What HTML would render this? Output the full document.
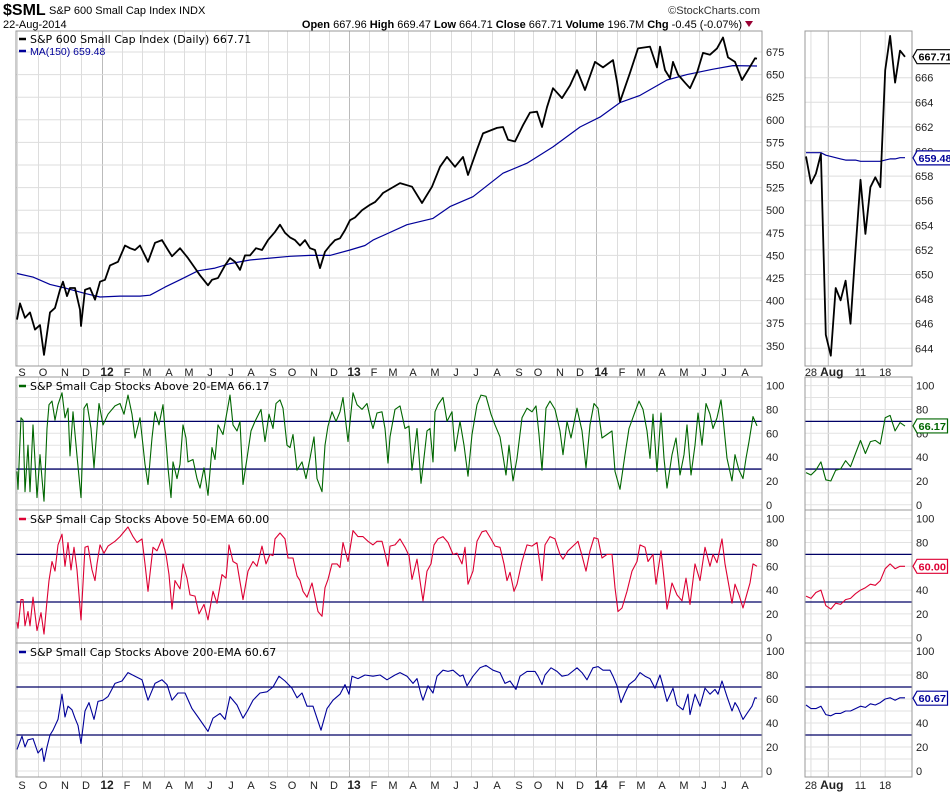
<!DOCTYPE html>
<html><head><meta charset="utf-8">
<style>
html,body{margin:0;padding:0;background:#fff;}
svg{display:block;font-family:"Liberation Sans",sans-serif;}
</style></head>
<body>
<svg id="chart" width="950" height="795" viewBox="0 0 950 795" xmlns="http://www.w3.org/2000/svg">
  <text x="3" y="15" font-size="16" font-weight="bold">$SML</text>
  <text x="49" y="14" font-size="11">S&amp;P 600 Small Cap Index INDX</text>
  <text x="3" y="28" font-size="11">22-Aug-2014</text>
  <text x="760" y="14" font-size="11" fill="#333" text-anchor="end">©StockCharts.com</text>
  <text x="742" y="28" font-size="11" text-anchor="end"><tspan font-weight="bold">Open</tspan> 667.96 <tspan font-weight="bold">High</tspan> 669.47 <tspan font-weight="bold">Low</tspan> 664.71 <tspan font-weight="bold">Close</tspan> 667.71 <tspan font-weight="bold">Volume</tspan> 196.7M <tspan font-weight="bold">Chg</tspan> -0.45 (-0.07%)</text>
  <polygon points="745,21 753,21 749,27" fill="#990033"/>
  <g id="layer"></g>
</svg>
<script>
// ---------- DATA (trading-day index from 22-Aug-2011, value) ----------
const priceDays = [0,3,8,13,18,23,27,33,38,43,46,50,53,58,63,64,68,73,78,83,88,93,101,108,113,118,123,131,138,145,151,155,163,171,178,183,191,195,201,208,213,218,223,228,233,239,245,251,258,263,268,273,278,283,288,293,298,303,308,313,318,323,328,333,338,345,353,358,363,366,383,395,405,415,423,430,438,446,451,460,466,480,486,491,498,506,513,520,525,530,536,545,553,560,568,578,586,596,600,603,613,621,633,640,643,648,653,656,661,668,673,680,686,693,700,706,711,718,725,731,738,740];
const priceVals = [379,397,381,387,368,373,340,387,392,412,421,405,414,414,390,372,412,414,401,421,423,439,443,461,458,456,461,443,464,467,456,449,458,447,436,428,417,423,425,439,447,443,434,450,450,458,456,467,476,484,475,470,467,461,467,458,456,436,454,461,467,469,478,489,492,500,506,509,515,519,530,526,508,526,548,559,548,559,539,567,585,591,592,578,576,594,608,609,592,614,635,624,638,655,633,664,658,666,642,620,652,679,681,658,681,655,646,664,650,641,635,652,674,672,679,691,669,664,644,655,668,667.71];
const maDays = [0,16,33,48,68,83,103,123,133,148,163,181,198,213,233,253,273,293,313,333,348,356,390,416,433,456,486,510,536,563,583,603,623,650,670,696,716,740];
const maVals = [430,426,418,414,408,404,405,405,406,415,423,433,436,441,445,447,449,450,450,456,461,467,484,491,504,515,541,552,570,592,603,619,627,644,650,656,660,659.48];

const ema20Days = [0,1,4,6,8,11,13,16,20,23,25,27,30,32,35,38,41,45,48,51,53,56,60,64,67,70,74,77,80,82,86,91,98,103,107,111,115,118,123,128,131,135,138,142,146,149,151,154,156,160,163,166,169,171,176,180,183,187,191,195,198,201,206,210,213,216,220,223,226,230,234,238,244,248,252,256,259,263,266,270,273,276,280,285,289,293,297,300,305,308,311,315,319,323,326,331,336,340,345,350,354,356,360,365,368,371,373,378,383,388,392,395,400,404,406,410,413,416,418,421,426,430,435,438,443,447,451,455,460,464,469,474,478,483,489,492,496,500,505,510,515,519,522,525,529,533,538,543,546,550,554,560,565,569,573,577,581,585,590,595,598,603,608,612,618,622,626,630,633,636,640,644,647,650,655,659,663,667,670,674,678,681,685,689,693,696,700,704,706,710,715,718,722,726,729,732,736,740];
const ema20Vals = [28,13,73,71,11,50,11,67,6,42,22,3,64,84,87,71,84,94,73,81,41,78,41,6,81,85,64,31,64,85,67,76,83,85,76,92,76,56,73,34,17,56,78,67,84,53,31,6,36,22,34,67,56,36,38,22,14,31,8,48,38,67,59,78,92,67,62,70,17,39,62,70,80,53,76,64,85,88,81,50,48,59,29,36,22,39,57,22,11,50,66,78,70,78,90,53,94,84,80,85,70,64,77,78,64,35,57,80,83,64,66,29,64,18,32,62,64,36,78,84,90,70,78,45,70,50,24,59,84,92,91,76,67,57,25,50,20,39,73,81,78,83,59,29,81,87,80,62,42,70,56,81,62,31,67,85,81,56,59,62,28,13,42,64,78,87,80,62,39,76,28,77,39,14,42,56,25,42,67,25,50,77,50,85,76,64,73,88,73,39,20,42,29,22,39,53,74,66.17];

const ema50Days = [0,1,4,6,8,11,13,16,20,24,27,30,32,35,38,41,45,48,51,54,57,60,64,68,71,75,78,80,83,87,91,98,103,111,116,120,125,128,131,136,140,145,149,152,155,158,163,166,170,173,178,182,187,191,196,200,205,209,212,216,220,226,231,236,240,245,249,253,256,258,263,268,271,276,280,283,286,290,295,298,301,305,308,311,315,320,323,326,331,336,341,346,351,356,360,365,368,371,373,378,383,388,392,395,400,404,406,410,414,417,421,426,431,436,440,445,448,451,456,460,465,469,474,478,483,487,490,493,497,500,505,510,515,520,525,528,533,538,543,546,551,556,561,565,569,573,577,581,585,590,595,598,601,605,610,615,620,623,628,631,636,639,644,647,650,655,660,665,669,673,678,683,688,693,696,700,705,708,711,715,718,722,726,729,733,736,740];
const ema50Vals = [13,8,32,32,10,22,10,34,6,21,3,31,48,64,56,78,87,60,80,57,76,57,15,76,77,57,48,62,78,71,77,81,85,93,85,80,83,62,39,76,73,83,70,53,24,48,41,62,50,36,35,20,28,15,39,29,53,50,78,64,62,32,56,64,60,77,62,70,69,83,88,83,67,67,52,48,39,34,46,34,22,18,42,49,62,62,59,80,64,90,85,85,81,78,81,81,71,60,77,78,83,76,69,49,66,42,31,56,62,78,83,85,80,70,71,62,76,45,56,81,89,90,83,77,76,62,48,55,39,45,64,78,77,80,48,78,85,83,70,66,73,77,81,69,56,73,84,83,67,70,70,42,22,25,39,56,64,78,76,64,70,45,73,50,24,46,36,31,50,28,62,48,76,60,70,63,83,62,48,29,45,36,25,34,46,62,60];

const ema200Days = [0,5,8,11,16,21,25,27,30,33,36,41,45,48,51,55,58,61,64,68,72,77,81,86,91,98,105,111,118,125,131,138,145,150,155,161,168,175,181,191,196,203,208,213,220,226,231,236,243,250,256,262,268,275,280,285,290,296,300,304,310,316,323,328,332,335,341,348,356,363,370,378,383,390,396,400,404,406,411,416,420,426,431,436,443,446,450,456,463,469,476,483,488,493,499,503,510,518,521,525,528,534,540,545,551,560,565,570,576,581,586,593,596,600,604,608,612,618,623,628,633,638,643,646,650,656,660,666,671,673,678,683,688,693,698,701,705,710,715,718,721,726,730,735,738,740];
const ema200Vals = [18,29,20,26,27,15,19,8,20,30,34,43,64,45,54,51,44,38,23,50,57,43,58,59,62,73,75,82,79,76,59,73,76,72,59,65,65,52,45,33,44,48,43,62,55,44,51,59,65,66,70,79,75,69,61,65,54,54,44,34,52,59,64,72,64,79,77,80,79,80,76,80,82,79,73,77,64,59,71,65,79,84,83,84,79,80,71,79,86,88,84,82,73,75,68,79,83,83,79,72,80,86,83,79,80,86,82,76,86,87,84,84,79,71,57,65,72,76,82,79,77,69,80,71,58,69,55,51,64,47,64,54,69,64,68,64,75,62,50,57,53,43,48,54,61,60.67];

// inset (last 21 sessions, 25-Jul to 22-Aug-2014)
const insetPrice = [659.6,657.4,658.2,659.8,645.1,643.4,648.9,647.9,649.5,646.0,652.0,657.7,653.3,657.1,657.9,657.1,666.6,669.4,665.6,668.2,667.7];
const insetMA = [659.9,659.9,659.9,659.9,659.7,659.6,659.5,659.4,659.3,659.3,659.3,659.2,659.2,659.2,659.2,659.2,659.3,659.4,659.4,659.5,659.5];
const inset20 = [27,25,29,36,21,20,29,30,37,32,43,54,43,53,54,51,73,75,62,69,66];
const inset50 = [35,33,38,40,27,24,29,28,32,33,37,40,42,45,44,48,58,62,58,60,60];
const inset200 = [55,52,52,54,47,46,48,48,50,50,52,54,53,56,55,57,60,61,59,61,61];

const monthDays = [2,23,45,66,87,107,127,149,169,190,211,231,253,272,294,314,334,354,373,393,415,436,456,477,499,518,540,560,581,602,621,642,664,684,704,725];
const monthLabels = ["S","O","N","D","12","F","M","A","M","J","J","A","S","O","N","D","13","F","M","A","M","J","J","A","S","O","N","D","14","F","M","A","M","J","J","A"];
const priceTicks = [350,375,400,425,450,475,500,525,550,575,600,625,650,675];
const insetPriceTicks = [644,646,648,650,652,654,656,658,660,662,664,666];
const pctTicks = [0,20,40,60,80,100];
const insetDayTicks = [1,5,11,16];
const insetDayLabels = ["28","Aug","11","18"];

// ---------- GEOMETRY ----------
const NS = "http://www.w3.org/2000/svg";
const layer = document.getElementById("layer");
const X0 = 16, X1 = 762, IX0 = 805, IX1 = 912;
const dx = d => 17 + d * (740 / 740);
const ix = i => 806 + i * 4.95;
const priceY = v => 52 + (675 - v) / 1.106;
const insetPriceY = v => 77.7 + (666 - v) * 12.3;
const pctPanels = [
  {top:377,bot:510,y100:385.6,y0:504.8},
  {top:510,bot:643,y100:518.7,y0:637.7},
  {top:643,bot:777,y100:651,y0:771}
];
function pctY(p){ return v => p.y0 - v * (p.y0 - p.y100) / 100; }

function mk(tag, attrs, parent){
  const el = document.createElementNS(NS, tag);
  for (const k in attrs) el.setAttribute(k, attrs[k]);
  (parent || layer).appendChild(el);
  return el;
}
function poly(xs, vals, xf, yf, color, w, name){
  let pts = vals.map((v,i)=> xf(xs ? xs[i] : i).toFixed(1)+","+yf(v).toFixed(1)).join(" ");
  const el = mk("polyline",{points:pts,fill:"none",stroke:color,"stroke-width":w,"stroke-linejoin":"round"});
  
  
  return el;
}
function hline(x0,x1,y,color,w,name){
  const el = mk("line",{x1:x0,x2:x1,y1:y,y2:y,stroke:color,"stroke-width":w});
  
  
  return el;
}
function vline(x,y0,y1,color,w,name){
  const el = mk("line",{x1:x,x2:x,y1:y0,y2:y1,stroke:color,"stroke-width":w});
  
  
  return el;
}
function txt(x,y,s,opt,name){
  const el = mk("text",Object.assign({x:x,y:y,"font-size":11,fill:"#222"},opt||{}));
  el.textContent = s;
  
  
  return el;
}
function frame(x0,y0,x1,y1,name){
  const el = mk("rect",{x:x0,y:y0,width:x1-x0,height:y1-y0,fill:"none",stroke:"#999","stroke-width":1});
  
  
}
function tag(x,y,s,color,name){
  const w = s.length*5.5+3;
  const el = mk("polygon",{points:`${x},${y} ${x+4},${y-7} ${x+4+w},${y-7} ${x+4+w},${y+7} ${x+4},${y+7}`,fill:"#fff",stroke:color,"stroke-width":1.2});
  
  
  txt(x+5.5,y+4,s,{fill:color,"font-weight":"bold","font-size":10.5,"textLength":w-3,"lengthAdjust":"spacingAndGlyphs"},name);
}

// ---------- GRIDS ----------
const panelsY = [{top:31,bot:366}].concat(pctPanels);
panelsY.forEach((p,pi)=>{
  monthDays.forEach((d,i)=>{
    const yr = /^\d/.test(monthLabels[i]);
    vline(dx(d)-1.5,p.top,p.bot,yr?"#bbb":"#ddd",1,"month-gridline");
  });
  insetDayTicks.forEach(t=>{ if(t!==5) vline(ix(t),p.top,p.bot,"#ddd",1,"inset-gridline"); });
  vline(ix(4.5),p.top,p.bot,"#bbb",1,"inset-month-gridline");
});
priceTicks.forEach(t=>{
  hline(X0,X1,priceY(t),"#ddd",1,"price-gridline");
  txt(766,priceY(t)+4,String(t),{},"price-tick-label");
});
insetPriceTicks.forEach(t=>{
  hline(IX0,IX1,insetPriceY(t),"#ddd",1,"inset-price-gridline");
  txt(915,insetPriceY(t)+4,String(t),{},"inset-price-tick-label");
});
pctPanels.forEach(p=>{
  const yf = pctY(p);
  for(let v=0; v<=100; v+=10){
    hline(X0,X1,yf(v),"#e2e2e2",1,"pct-gridline");
    hline(IX0,IX1,yf(v),"#e2e2e2",1,"inset-pct-gridline");
  }
  pctTicks.forEach(t=>{
    txt(766,yf(t)+4,String(t),{},"pct-tick-label");
    txt(916,yf(t)+4,String(t),{},"inset-pct-tick-label");
  });
  hline(X0,X1,yf(70),"#000066",1.3,"overbought-line");
  hline(X0,X1,yf(30),"#000066",1.3,"oversold-line");
  hline(IX0,IX1,yf(70),"#000066",1.3,"inset-overbought-line");
  hline(IX0,IX1,yf(30),"#000066",1.3,"inset-oversold-line");
});

// ---------- FRAMES ----------
frame(X0,31,X1,366,"price-panel");
frame(IX0,31,IX1,366,"inset-price-panel");
pctPanels.forEach((p,i)=>{ frame(X0,p.top,X1,p.bot,"breadth-panel-"+(i+1)); frame(IX0,p.top,IX1,p.bot,"inset-breadth-panel-"+(i+1)); });

// ---------- AXIS LABELS ----------
[376,789].forEach((y,r)=>{
  monthDays.forEach((d,i)=>{
    const yr = /^\d/.test(monthLabels[i]);
    txt(dx(d)+3,y,monthLabels[i],{"text-anchor":"middle","font-weight":yr?"bold":"normal","font-size":yr?12:11},"month-label");
  });
  insetDayLabels.forEach((s,i)=>{
    txt(ix(insetDayTicks[i])+(s==="Aug"?1:0),y,s,{"text-anchor":"middle","font-weight":s==="Aug"?"bold":"normal","font-size":s==="Aug"?12:11},"inset-day-label");
  });
});

// ---------- SERIES ----------
poly(maDays,maVals,dx,priceY,"#000099",1.2,"ma150-line");
poly(priceDays,priceVals,dx,priceY,"#000",1.8,"price-line");
poly(null,insetMA,ix,insetPriceY,"#000099",1.2,"inset-ma150-line");
poly(null,insetPrice,ix,insetPriceY,"#000",1.8,"inset-price-line");
const y20 = pctY(pctPanels[0]), y50 = pctY(pctPanels[1]), y200 = pctY(pctPanels[2]);
poly(ema20Days,ema20Vals,dx,y20,"#006600",1.1,"above-20ema-line");
poly(ema50Days,ema50Vals,dx,y50,"#dd0033",1.1,"above-50ema-line");
poly(ema200Days,ema200Vals,dx,y200,"#000099",1.1,"above-200ema-line");
poly(null,inset20,ix,y20,"#006600",1.1,"inset-above-20ema-line");
poly(null,inset50,ix,y50,"#dd0033",1.1,"inset-above-50ema-line");
poly(null,inset200,ix,y200,"#000099",1.1,"inset-above-200ema-line");

// ---------- LEGENDS ----------
function legend(y,color,swatch,s,name,mono){
  hline(19,26,y-4,swatch,2.5,name+"-swatch");
  txt(30,y,s,{fill:color,"font-family":mono?"DejaVu Sans, sans-serif":"Liberation Sans, sans-serif","font-size":mono?11:10.5},name);
}
legend(43,"#000","#000","S&P 600 Small Cap Index (Daily) 667.71","price-legend",true);
legend(55,"#000099","#000099","MA(150) 659.48","ma-legend",false);
legend(390,"#000","#006600","S&P Small Cap Stocks Above 20-EMA 66.17","ema20-legend",true);
legend(523,"#000","#dd0033","S&P Small Cap Stocks Above 50-EMA 60.00","ema50-legend",true);
legend(656,"#000","#000099","S&P Small Cap Stocks Above 200-EMA 60.67","ema200-legend",true);

// ---------- VALUE TAGS ----------
tag(IX1+1,insetPriceY(667.71),"667.71","#000","last-price-tag");
tag(IX1+1,insetPriceY(659.48),"659.48","#000099","last-ma-tag");
tag(IX1+1,y20(66.17),"66.17","#006600","last-ema20-tag");
tag(IX1+1,y50(60.00),"60.00","#dd0033","last-ema50-tag");
tag(IX1+1,y200(60.67),"60.67","#000099","last-ema200-tag");
</script>
</body></html>
